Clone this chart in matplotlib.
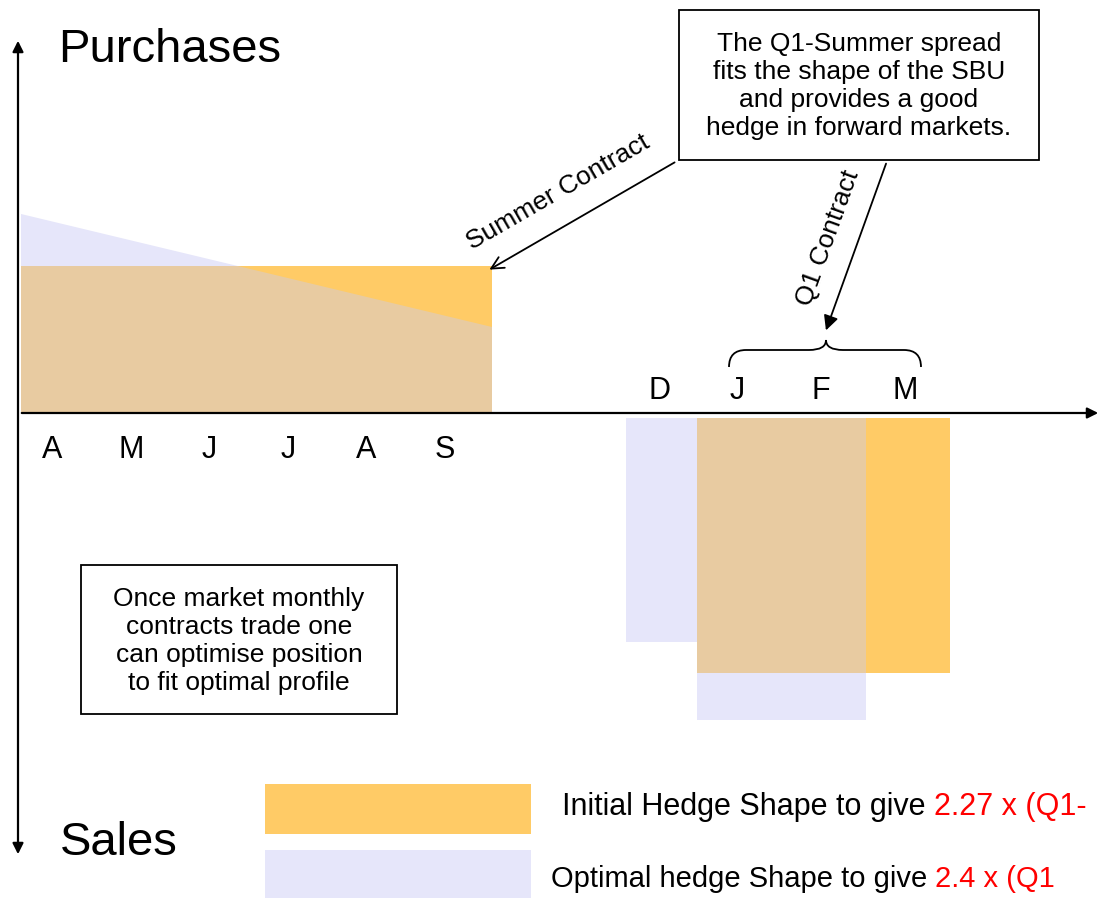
import matplotlib.pyplot as plt
import numpy as np
from matplotlib.patches import Rectangle, Polygon, FancyArrowPatch, PathPatch
from matplotlib.path import Path

plt.rcParams['font.family'] = ['Liberation Sans', 'DejaVu Sans']

# purchases side: summer strip (volume units, 1 unit = 100 px)
summer_months = ['A', 'M', 'J', 'J', 'A', 'S']
summer_initial = [1.47, 1.47, 1.47, 1.47, 1.47, 1.47]
summer_optimal_start = 1.99
summer_optimal_end = 0.86

# sales side: Q1 strip (plus December)
winter_months = ['D', 'J', 'F', 'M']
winter_initial = [0.0, 2.55, 2.55, 2.55]
winter_optimal = [2.24, 3.02, 3.02, 0.0]

# legend texts (the ratios are cut at the right edge in the original)
initial_label = 'Initial Hedge Shape to give '
initial_ratio = '2.27 x (Q1-'
optimal_label = 'Optimal hedge Shape to give '
optimal_ratio = '2.4 x (Q1'

ORANGE = '#FFCB66'
LAVENDER = '#E6E6FA'
OVERLAP = '#E8CBA1'

W, H = 1102, 901
fig = plt.figure(figsize=(W / 100, H / 100), dpi=100)
ax = fig.add_axes([0, 0, 1, 1])
ax.axis('off')
# x: months (78.5 px each, origin at px 21); y: volume (100 px each, origin at px 413)
ax.set_xlim(-21 / 78.5, (W - 21) / 78.5)
ax.set_ylim(-(H - 413) / 100, 413 / 100)


def P(x, y):
    # pixel position -> axes fraction
    return (x / W, 1 - y / H)


# ---- summer (purchases) ----
n = len(summer_months)
xs = np.arange(n)
opt_poly = Polygon([(0, 0), (0, summer_optimal_start), (n, summer_optimal_end), (n, 0)],
                   closed=True, fc=LAVENDER, lw=0)
ax.add_patch(opt_poly)
ax.bar(xs, summer_initial, width=1, align='edge', color=ORANGE, lw=0, antialiased=False)
tan = ax.bar(xs, summer_initial, width=1, align='edge', color=OVERLAP, lw=0, antialiased=False)
for b in tan:
    b.set_clip_path(opt_poly)
for i, m in enumerate(summer_months):
    ax.text(i + 0.4, -0.37, m, ha='center', va='center', fontsize=22)

# ---- Q1 (sales) ----
gap = 0.05
w_left = np.array([7.71, 8.61, 9.685, 10.76])
w_width = np.array([0.9, 1.075, 1.075, 1.075])
wi = np.array(winter_initial)
wo = np.array(winter_optimal)
ax.bar(w_left, -wo, bottom=-gap, width=w_width, align='edge', color=LAVENDER, lw=0, antialiased=False)
ax.bar(w_left, -wi, bottom=-gap, width=w_width, align='edge', color=ORANGE, lw=0, antialiased=False)
ax.bar(w_left, -np.minimum(wi, wo), bottom=-gap, width=w_width, align='edge',
       color=OVERLAP, lw=0, antialiased=False)
for l, w, m in zip(w_left, w_width, winter_months):
    ax.text(l + w / 2 - 0.03, 0.22, m, ha='center', va='center', fontsize=22)

# ---- axes arrows ----
ax.add_patch(FancyArrowPatch(P(18, 857), P(18, 38), transform=ax.transAxes,
                             arrowstyle='<|-|>', mutation_scale=16, lw=1.6, color='black'))
ax.add_patch(FancyArrowPatch(P(19, 413), P(1101, 413), transform=ax.transAxes,
                             arrowstyle='-|>', mutation_scale=16, lw=1.6, color='black'))
ax.text(*P(58, 50), 'Purchases', transform=ax.transAxes, ha='left', va='center', fontsize=34)
ax.text(*P(60, 843), 'Sales', transform=ax.transAxes, ha='left', va='center', fontsize=34)

# ---- text boxes ----
ax.add_patch(Rectangle(P(679, 160), 360 / W, 150 / H, transform=ax.transAxes,
                       fc='white', ec='black', lw=1.3))
ax.text(*P(859, 86), 'The Q1-Summer spread\nfits the shape of the SBU\nand provides a good\n'
        'hedge in forward markets.', transform=ax.transAxes, ha='center', va='center',
        fontsize=19, linespacing=1.2)
ax.add_patch(Rectangle(P(81, 714), 316 / W, 149 / H, transform=ax.transAxes,
                       fc='white', ec='black', lw=1.3))
ax.text(*P(239, 641), 'Once market monthly\ncontracts trade one\ncan optimise position\n'
        'to fit optimal profile', transform=ax.transAxes, ha='center', va='center',
        fontsize=19, linespacing=1.2)

# ---- callout arrows ----
ax.add_patch(FancyArrowPatch(P(677, 161), P(487, 271), transform=ax.transAxes,
                             arrowstyle='->', mutation_scale=22, lw=1.3, color='black'))
ax.text(*P(558, 192), 'Summer Contract', transform=ax.transAxes, ha='center', va='center',
        rotation=30, rotation_mode='anchor', fontsize=19)
ax.add_patch(FancyArrowPatch(P(887, 161), P(825, 333), transform=ax.transAxes,
                             arrowstyle='-|>', mutation_scale=22, lw=1.3, color='black'))
ax.text(*P(828, 238), 'Q1 Contract', transform=ax.transAxes, ha='center', va='center',
        rotation=70, rotation_mode='anchor', fontsize=19)

# brace over J-F-M
bx = [(729, 367), (729, 350), (746, 350), (809, 350), (826, 350), (826, 340),
      (826, 350), (843, 350), (904, 350), (921, 350), (921, 367)]
codes = [Path.MOVETO, Path.CURVE3, Path.CURVE3, Path.LINETO, Path.CURVE3, Path.CURVE3,
         Path.CURVE3, Path.CURVE3, Path.LINETO, Path.CURVE3, Path.CURVE3]
ax.add_patch(PathPatch(Path([P(*p) for p in bx], codes), transform=ax.transAxes,
                       fc='none', ec='black', lw=1.3))

# ---- legend ----
ax.add_patch(Rectangle(P(265, 834), 266 / W, 50 / H, transform=ax.transAxes, fc=ORANGE, lw=0))
ax.add_patch(Rectangle(P(265, 898), 266 / W, 48 / H, transform=ax.transAxes, fc=LAVENDER, lw=0))
t1 = ax.text(*P(562, 815), initial_label, transform=ax.transAxes, ha='left', va='baseline', fontsize=22)
ax.annotate(initial_ratio, xy=(1, 0), xycoords=t1, ha='left', va='bottom', fontsize=22, color='red')
t2 = ax.text(*P(551, 887), optimal_label, transform=ax.transAxes, ha='left', va='baseline', fontsize=21)
ax.annotate(optimal_ratio, xy=(1, 0), xycoords=t2, ha='left', va='bottom', fontsize=21, color='red')

fig.savefig('out.png', dpi=100)
